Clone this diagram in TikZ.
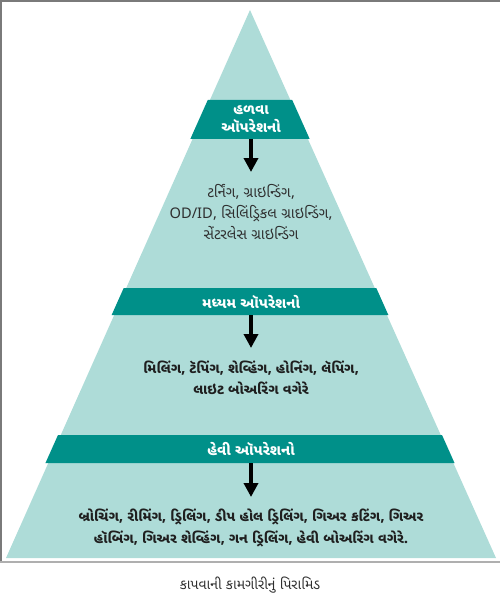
\documentclass[tikz,border=0pt]{standalone}
\usepackage{fontspec}
\usepackage{xcolor}
\usetikzlibrary{arrows.meta}
\newfontfamily\gujfont[Script=Gujarati]{Noto Sans Gujarati UI}
\newfontfamily\latfont{Noto Sans}
\definecolor{paleteal}{HTML}{AEDCD8}
\definecolor{bandteal}{HTML}{009089}
\definecolor{framegray}{HTML}{7A7A7A}
\definecolor{inkgray}{HTML}{2E2E2E}
\tikzset{
  bandlabel/.style={text=white,font=\gujfont\bfseries\fontsize{11}{14}\selectfont,align=center,inner sep=0pt},
  opstext/.style={text=inkgray,font=\gujfont\fontsize{11}{16}\selectfont,align=center,inner sep=0pt},
  opsbold/.style={text=black!88,font=\gujfont\bfseries\fontsize{10.5}{16}\selectfont,align=center,inner sep=0pt},
  downarrow/.style={-{Triangle[width=10.5pt,length=10.5pt]},line width=3pt,black}
}

\begin{document}
\begin{tikzpicture}[x=0.75pt,y=-0.75pt]
  \useasboundingbox (0,0) rectangle (500,606);
  % frame
  \draw[framegray,line width=1.2pt] (0,1)--(500,1);
  \draw[framegray,line width=1.2pt] (1,1)--(1,562);
  \draw[framegray!60,line width=0.8pt] (0,562)--(500,562);
  % pyramid
  \fill[paleteal] (250,10)--(6,558)--(496,558)--cycle;
  \foreach \a/\b in {100/139,288/315,435/463}{
    \pgfmathsetmacro{\ha}{(\a-10)/548*245+2}
    \pgfmathsetmacro{\hb}{(\b-10)/548*245+2}
    \fill[bandteal] (250-\ha,\a)--(250+\ha,\a)--(250+\hb,\b)--(250-\hb,\b)--cycle;
  }
  % band labels
  \node[bandlabel] (light) at (251,119) {હળવા\\ઑપરેશનો};
  \node[bandlabel] (medium) at (251,302) {મધ્યમ ઑપરેશનો};
  \node[bandlabel] (heavy) at (251,449) {હેવી ઑપરેશનો};
  % operations
  \node[opstext] (lightops) at (251,212)
    {ટર્નિંગ, ગ્રાઇન્ડિંગ,\\{\latfont OD/ID}, સિલિંડ્રિકલ ગ્રાઇન્ડિંગ,\\સેંટરલેસ ગ્રાઇન્ડિંગ};
  \node[opsbold] (mediumops) at (251,378)
    {મિલિંગ, ટૅપિંગ, શેવ્હિંગ, હોનિંગ, લૅપિંગ,\\લાઇટ બોઅરિંગ વગેરે};
  \node[opsbold] (heavyops) at (251,528)
    {બ્રોચિંગ, રીમિંગ, ડ્રિલિંગ, ડીપ હોલ ડ્રિલિંગ, ગિઅર કટિંગ, ગિઅર\\હૉબિંગ, ગિઅર શેવ્હિંગ, ગન ડ્રિલિંગ, હેવી બોઅરિંગ વગેરે.};
  % arrows
  \coordinate (lightend) at (251,139);
  \coordinate (mediumend) at (251,315);
  \coordinate (heavyend) at (251,463);
  \draw[downarrow] (lightend) -- (lightops.north|-0,172);
  \draw[downarrow] (mediumend) -- (mediumops.north|-0,348);
  \draw[downarrow] (heavyend) -- (heavyops.north|-0,497);
  % caption
  \node[text=inkgray,font=\gujfont\fontsize{10.5}{13}\selectfont] (caption) at (250,585) {કાપવાની કામગીરીનું પિરામિડ};
\end{tikzpicture}
\end{document}
